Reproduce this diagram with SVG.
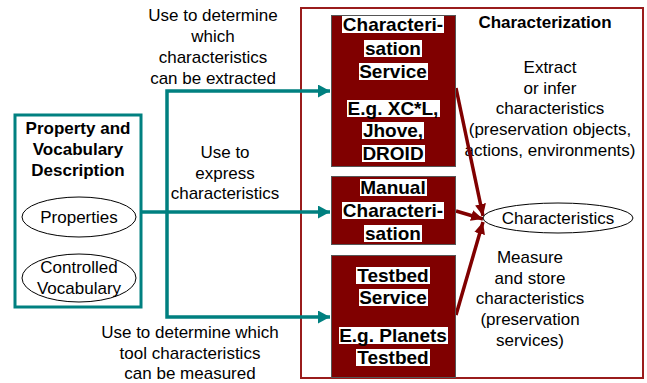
<svg xmlns="http://www.w3.org/2000/svg" width="647" height="383" viewBox="0 0 647 383">
<style>
text{font-family:"Liberation Sans",Arial,sans-serif;fill:#000;text-anchor:middle}
.n{font-size:17px}
.b{font-size:17px;font-weight:bold}
.bx{font-size:19px;font-weight:bold}
.svc{fill:#800000;stroke:#555;stroke-width:1}
.hl{fill:#fff}
.teal{fill:none;stroke:#008080;stroke-width:3.5;marker-end:url(#at)}
.red{fill:none;stroke:#800000;stroke-width:3.5;marker-end:url(#ar)}
.ell{fill:#fff;stroke:#000;stroke-width:1}
</style>
<defs>
<marker id="at" markerUnits="userSpaceOnUse" markerWidth="13" markerHeight="13" refX="12" refY="6.5" orient="auto"><path d="M0,0 L12,6.5 L0,13 z" fill="#008080"/></marker>
<marker id="ar" markerUnits="userSpaceOnUse" markerWidth="13" markerHeight="11" refX="12" refY="5.5" orient="auto"><path d="M0,0 L12,5.5 L0,11 z" fill="#800000"/></marker>
</defs>
<rect width="647" height="383" fill="#fff"/>
<g id="characterization">
<rect x="301" y="8" width="342" height="370" fill="none" stroke="#9a1c1c" stroke-width="2"/>
<text class="b" x="545" y="28">Characterization</text>
</g>
<g id="label-extract">
<text class="n" x="550" y="73">Extract</text>
<text class="n" x="550" y="94">or infer</text>
<text class="n" x="550" y="114">characteristics</text>
<text class="n" x="550" y="135">(preservation objects,</text>
<text class="n" x="550" y="156">actions, environments)</text>
</g>
<g id="label-measure">
<text class="n" x="530" y="263">Measure</text>
<text class="n" x="530" y="284">and store</text>
<text class="n" x="530" y="304">characteristics</text>
<text class="n" x="530" y="325">(preservation</text>
<text class="n" x="530" y="346">services)</text>
</g>
<g id="connectors">
<path class="teal" d="M141,212 H330"/>
<path class="teal" d="M167,212 V91 H330"/>
<path class="teal" d="M167,212 V317 H330"/>
<path class="red" d="M456,88 L483,216"/>
<path class="red" d="M456,211 L483,219"/>
<path class="red" d="M456,315 L483,222"/>
</g>
<g id="property-description">
<rect x="15" y="115" width="126" height="192" fill="#fff" stroke="#008080" stroke-width="3"/>
<text class="b" x="78" y="134">Property and</text>
<text class="b" x="78" y="155">Vocabulary</text>
<text class="b" x="78" y="176">Description</text>
</g>
<g id="properties">
<ellipse class="ell" cx="79" cy="217" rx="57" ry="20"/>
<text class="n" x="79" y="223">Properties</text>
</g>
<g id="controlled-vocabulary">
<ellipse class="ell" cx="79" cy="278" rx="57" ry="24"/>
<text class="n" x="79" y="273">Controlled</text>
<text class="n" x="79" y="294">Vocabulary</text>
</g>
<g id="characterisation-service">
<rect class="svc" x="331.5" y="15.5" width="124" height="151"/>
<rect class="hl" x="342" y="16" width="102" height="17"/>
<rect class="hl" x="364" y="40" width="58" height="17"/>
<rect class="hl" x="359" y="63" width="69" height="17"/>
<rect class="hl" x="347" y="100" width="93" height="17"/>
<rect class="hl" x="362" y="122" width="62" height="17"/>
<rect class="hl" x="362" y="145" width="63" height="17"/>
<text class="bx" x="393" y="31">Characteri-</text>
<text class="bx" x="393" y="55">sation</text>
<text class="bx" x="393" y="78">Service</text>
<text class="bx" x="393" y="115">E.g. XC*L,</text>
<text class="bx" x="393" y="137">Jhove,</text>
<text class="bx" x="393" y="160">DROID</text>
</g>
<g id="manual-characterisation">
<rect class="svc" x="331.5" y="176.5" width="124" height="68"/>
<rect class="hl" x="360" y="179" width="67" height="17"/>
<rect class="hl" x="342" y="202" width="102" height="17"/>
<rect class="hl" x="364" y="225" width="58" height="17"/>
<text class="bx" x="393" y="194">Manual</text>
<text class="bx" x="393" y="217">Characteri-</text>
<text class="bx" x="393" y="240">sation</text>
</g>
<g id="testbed-service">
<rect class="svc" x="331.5" y="255.5" width="124" height="122"/>
<rect class="hl" x="356" y="267" width="74" height="17"/>
<rect class="hl" x="359" y="289" width="69" height="17"/>
<rect class="hl" x="339" y="327" width="109" height="17"/>
<rect class="hl" x="356" y="349" width="74" height="17"/>
<text class="bx" x="393" y="282">Testbed</text>
<text class="bx" x="393" y="304">Service</text>
<text class="bx" x="393" y="342">E.g. Planets</text>
<text class="bx" x="393" y="364">Testbed</text>
</g>
<g id="characteristics">
<ellipse class="ell" cx="558" cy="218" rx="75" ry="15"/>
<text class="n" x="558" y="224">Characteristics</text>
</g>
<g id="label-extracted">
<text class="n" x="213" y="21">Use to determine</text>
<text class="n" x="213" y="42">which</text>
<text class="n" x="213" y="63">characteristics</text>
<text class="n" x="213" y="84">can be extracted</text>
</g>
<g id="label-express">
<text class="n" x="225" y="158">Use to</text>
<text class="n" x="225" y="179">express</text>
<text class="n" x="225" y="199">characteristics</text>
</g>
<g id="label-measured">
<text class="n" x="190" y="338">Use to determine which</text>
<text class="n" x="190" y="359">tool characteristics</text>
<text class="n" x="190" y="379">can be measured</text>
</g>
</svg>
